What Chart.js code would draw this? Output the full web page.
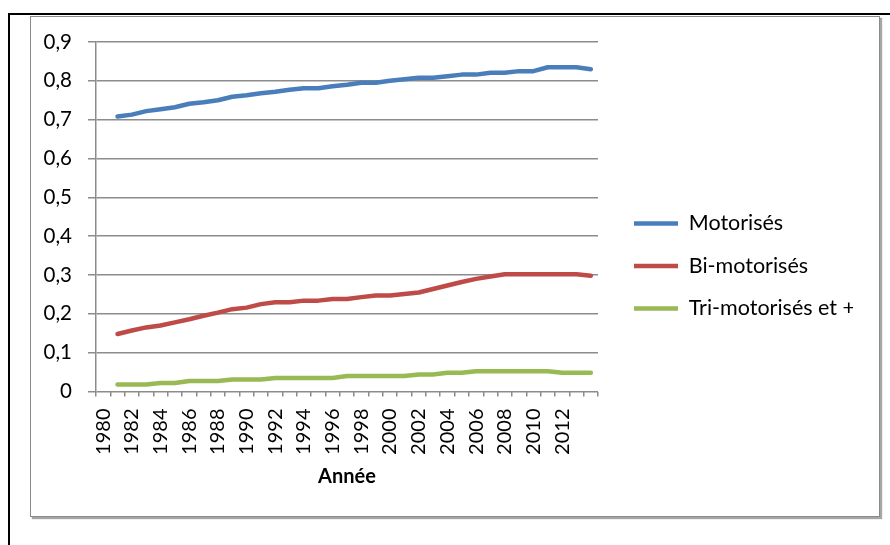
<!DOCTYPE html>
<html>
<head>
<meta charset="utf-8">
<script src="https://cdn.jsdelivr.net/npm/chart.js@4/dist/chart.umd.min.js"></script>
<style>
  html, body { margin: 0; padding: 0; background: #fff; width: 890px; height: 545px; overflow: hidden; }
  #outer { position: absolute; left: 8px; top: 13px; width: 900px; height: 600px;
           border-top: 2px solid #000; border-left: 2px solid #000; }
  #frame { position: absolute; left: 30px; top: 16px; width: 848px; height: 499px;
           border: 1px solid #8a8a8a; box-shadow: 2px 2px 1px rgba(0,0,0,0.35); background: #fff; }
  #c { position: absolute; left: 0; top: 0; }
</style>
</head>
<body>
<div id="outer"></div>
<div id="frame"></div>
<canvas id="c" width="890" height="545"></canvas>
<script>
const years = ['1980','1981','1982','1983','1984','1985','1986','1987','1988','1989',
  '1990','1991','1992','1993','1994','1995','1996','1997','1998','1999',
  '2000','2001','2002','2003','2004','2005','2006','2007','2008','2009',
  '2010','2011','2012','2013','2014'];
const tickLabels = ['1980','1982','1984','1986','1988','1990','1992','1994','1996','1998',
  '2000','2002','2004','2006','2008','2010','2012'];
const motorises = [null,0.708,0.713,0.722,0.727,0.732,0.741,0.745,0.750,0.759,0.763,
  0.768,0.772,0.777,0.781,0.781,0.786,0.790,0.795,0.795,0.800,
  0.804,0.808,0.808,0.812,0.816,0.816,0.821,0.821,0.825,0.825,
  0.835,0.835,0.835,0.830];
const biMotorises = [null,0.148,0.157,0.165,0.170,0.178,0.186,0.195,0.203,0.212,0.216,
  0.225,0.230,0.230,0.234,0.234,0.238,0.238,0.243,0.247,0.247,
  0.251,0.255,0.264,0.273,0.282,0.290,0.296,0.302,0.302,0.302,
  0.302,0.302,0.302,0.298];
const triMotorises = [null,0.018,0.018,0.018,0.022,0.022,0.027,0.027,0.027,0.031,0.031,
  0.031,0.035,0.035,0.035,0.035,0.035,0.040,0.040,0.040,0.040,
  0.040,0.044,0.044,0.048,0.048,0.052,0.052,0.052,0.052,0.052,
  0.052,0.048,0.048,0.048];
const seriesNames = ['Motorisés','Bi-motorisés','Tri-motorisés et +'];
const yTicks = [0,0.1,0.2,0.3,0.4,0.5,0.6,0.7,0.8,0.9];

const FONT = 'Lato, "Noto Sans", sans-serif';
const GRID = '#8c8c8c';

function ds(label, data, color) {
  return { label, data, borderColor: color, backgroundColor: color, borderWidth: 4.5,
           pointRadius: 0, pointHoverRadius: 0, tension: 0, fill: false,
           borderCapStyle: 'round', borderJoinStyle: 'round', spanGaps: false };
}

new Chart(document.getElementById('c'), {
  type: 'line',
  data: {
    labels: years,
    datasets: [
      ds(seriesNames[0], motorises, '#4A7EBB'),
      ds(seriesNames[1], biMotorises, '#BE4B48'),
      ds(seriesNames[2], triMotorises, '#98B954')
    ]
  },
  options: {
    responsive: false,
    animation: false,
    layout: { padding: { left: 20, top: 42, right: 37, bottom: 55 } },
    plugins: {
      tooltip: { enabled: false },
      legend: {
        position: 'right',
        fullSize: true,
        maxWidth: 240,
        labels: {
          usePointStyle: true,
          pointStyle: 'line',
          pointStyleWidth: 44,
          padding: 21,
          color: '#000',
          font: { family: FONT, size: 21.5 }
        }
      }
    },
    scales: {
      x: {
        type: 'category',
        offset: true,
        afterFit: (s) => { s.height = 98.5; },
        grid: { offset: true, drawOnChartArea: false, drawTicks: true, tickLength: 5,
                color: GRID, lineWidth: 1.5 },
        border: { display: false },
        ticks: {
          autoSkip: false, minRotation: 90, maxRotation: 90, padding: 12,
          color: '#000', font: { family: FONT, size: 20 },
          callback: function(v, i) { const l = this.getLabelForValue(v); return tickLabels.includes(l) ? l : ''; }
        },
        title: { display: true, text: 'Année', color: '#000',
                 font: { family: FONT, size: 20, weight: 'bold' }, padding: { top: 0, bottom: 1 } }
      },
      y: {
        min: 0, max: 0.9,
        afterFit: (s) => { s.width = 76; },
        afterBuildTicks: (s) => { s.ticks = yTicks.map(v => ({ value: v })); },
        grid: { color: GRID, lineWidth: 1.5, drawTicks: true, tickLength: 8 },
        border: { display: true, color: GRID, width: 1.5 },
        ticks: {
          padding: 16, color: '#000', font: { family: FONT, size: 20.5 },
          callback: (v) => v === 0 ? '0' : Number(v).toFixed(1).replace('.', ',')
        }
      },
      y2: {
        position: 'right',
        display: true,
        afterFit: (s) => { s.width = 15; },
        grid: { display: false, drawOnChartArea: false, drawTicks: false },
        border: { display: false },
        ticks: { display: false }
      }
    }
  }
});
</script>
</body>
</html>
